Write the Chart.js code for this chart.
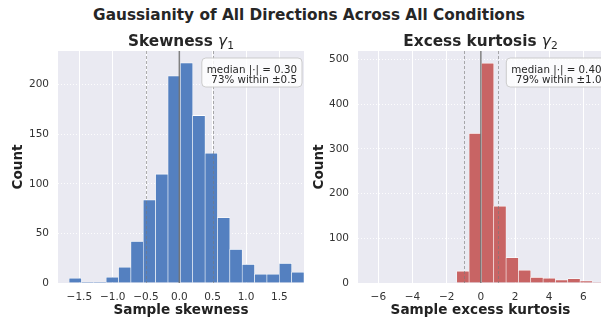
<!DOCTYPE html>
<html>
<head>
<meta charset="utf-8">
<script src="https://cdn.jsdelivr.net/npm/chart.js@4.4.0/dist/chart.umd.min.js"></script>
<style>
  html, body { margin: 0; padding: 0; width: 601px; height: 322px; overflow: hidden; background: #fff; }
  #suptitle {
    position: absolute; left: 0; top: 6px; width: 618px; text-align: center;
    font: bold 15.3px 'DejaVu Sans'; line-height: 18px; color: #262626;
  }
  .panel { position: absolute; top: 0; height: 322px; }
  #skewPanel { left: 0; width: 310px; }
  #kurtPanel { left: 300px; width: 305px; }
</style>
</head>
<body>
<div id="suptitle">Gaussianity of All Directions Across All Conditions</div>
<div class="panel" id="skewPanel"><canvas id="skewChart"></canvas></div>
<div class="panel" id="kurtPanel"><canvas id="kurtChart"></canvas></div>
<script>
// skewness histogram (counts per bin)
const skewCounts = [5, 1, 1, 6, 16, 42, 84, 110, 209, 222, 169, 131, 66, 34, 19, 9, 9, 20, 11];
const skewBinStart = -1.654;
const skewBinWidth = 0.1855;
const skewTicksX = [-1.5, -1.0, -0.5, 0, 0.5, 1.0, 1.5];
const skewTicksY = [0, 50, 100, 150, 200];
const skewMedian = 0.30;
const skewWithinPct = 73;
const skewThreshold = 0.5;

// excess kurtosis histogram
const kurtCounts = [27, 335, 492, 172, 57, 29, 13, 11, 7, 10, 5, 1];
const kurtBinStart = -1.41;
const kurtBinWidth = 0.722;
const kurtTicksX = [-6, -4, -2, 0, 2, 4, 6];
const kurtTicksY = [0, 100, 200, 300, 400, 500];
const kurtMedian = 0.40;
const kurtWithinPct = 79;
const kurtThreshold = 1.0;

const FONT = "'DejaVu Sans'";
const minus = s => s.replace('-', '\u2212');

function binPoints(counts, start, width) {
    return counts.map((c, i) => ({ x: start + width * (i + 0.5), y: c }));
}

// background, reference lines, title and stats box for one panel
function panelDecor(p) {
    return {
        id: 'panelDecor',
        beforeDraw(chart) {
            const { ctx, chartArea: a } = chart;
            ctx.save();
            ctx.fillStyle = '#EAEAF2';
            ctx.fillRect(a.left, a.top, a.right - a.left, a.bottom - a.top);
            ctx.restore();
        },
        afterDatasetsDraw(chart) {
            const { ctx, chartArea: a, scales: { x } } = chart;
            ctx.save();
            ctx.beginPath();
            ctx.rect(a.left, a.top, a.right - a.left, a.bottom - a.top);
            ctx.clip();

            ctx.strokeStyle = 'rgba(120,120,120,0.6)';
            ctx.lineWidth = 1;
            ctx.setLineDash([3, 2]);
            [-p.threshold, p.threshold].forEach(v => {
                const px = Math.round(x.getPixelForValue(v)) + 0.5;
                ctx.beginPath();
                ctx.moveTo(px, a.top);
                ctx.lineTo(px, a.bottom);
                ctx.stroke();
            });

            ctx.setLineDash([]);
            ctx.strokeStyle = 'rgba(115,115,115,0.9)';
            ctx.lineWidth = 1.5;
            const zx = x.getPixelForValue(0);
            ctx.beginPath();
            ctx.moveTo(zx, a.top);
            ctx.lineTo(zx, a.bottom);
            ctx.stroke();
            ctx.restore();

            // stats box
            const lines = [
                'median |\u00B7| = ' + p.median.toFixed(2),
                p.pct + '% within \u00B1' + p.threshold.toFixed(1)
            ];
            ctx.save();
            ctx.font = '10.3px ' + FONT;
            const w = Math.max(...lines.map(l => ctx.measureText(l).width));
            const right = a.right - p.noteInset;
            const bx = right - w - 5, by = a.top + 7, bw = w + 10, bh = 29;
            ctx.beginPath();
            ctx.roundRect(bx, by, bw, bh, 4);
            ctx.fillStyle = 'rgba(255,255,255,0.82)';
            ctx.fill();
            ctx.strokeStyle = 'rgba(200,200,200,0.9)';
            ctx.lineWidth = 1;
            ctx.stroke();
            ctx.fillStyle = '#262626';
            ctx.textAlign = 'right';
            ctx.textBaseline = 'alphabetic';
            ctx.fillText(lines[0], right, a.top + 21.5);
            ctx.fillText(lines[1], right, a.top + 32);
            ctx.restore();
        },
        afterDraw(chart) {
            const { ctx, chartArea: a } = chart;
            ctx.save();
            ctx.fillStyle = '#262626';
            ctx.textBaseline = 'alphabetic';
            const boldF = 'bold 15.3px ' + FONT;
            const italF = 'oblique 15.3px ' + FONT;
            const subF = '10.7px ' + FONT;
            ctx.font = boldF; const w1 = ctx.measureText(p.title).width;
            ctx.font = italF; const w2 = ctx.measureText('\u03B3').width;
            ctx.font = subF; const w3 = ctx.measureText(p.sub).width;
            let tx = (a.left + a.right) / 2 - (w1 + w2 + w3) / 2;
            const ty = 46;
            ctx.textAlign = 'left';
            ctx.font = boldF; ctx.fillText(p.title, tx, ty); tx += w1;
            ctx.font = italF; ctx.fillText('\u03B3', tx, ty); tx += w2;
            ctx.font = subF; ctx.fillText(p.sub, tx, ty + 3);
            ctx.restore();
        }
    };
}

function makePanel(canvasId, p) {
    return new Chart(document.getElementById(canvasId), {
        type: 'bar',
        data: {
            datasets: [{
                data: binPoints(p.counts, p.binStart, p.binWidth),
                backgroundColor: p.color,
                borderColor: '#ffffff',
                borderWidth: { left: 0.6, right: 0.6, top: 0.8, bottom: 0 },
                borderSkipped: false,
                barPercentage: 1.0,
                categoryPercentage: 1.0
            }]
        },
        options: {
            responsive: true,
            maintainAspectRatio: false,
            animation: false,
            layout: { padding: { left: 0, right: p.rightPad, top: 51, bottom: 3 } },
            plugins: { legend: { display: false }, tooltip: { enabled: false } },
            scales: {
                x: {
                    type: 'linear',
                    offset: false,
                    min: p.xMin,
                    max: p.xMax,
                    afterBuildTicks: s => { s.ticks = p.ticksX.map(v => ({ value: v })); },
                    afterFit: s => { s.height = 36; },
                    grid: { color: '#ffffff', lineWidth: 1, drawTicks: false, offset: false },
                    border: { display: false },
                    ticks: {
                        padding: 8,
                        color: '#333333',
                        font: { family: FONT, size: 10.5 },
                        callback: v => minus(p.fmtX(v))
                    },
                    title: {
                        display: true,
                        text: p.xLabel,
                        color: '#222222',
                        font: { family: FONT, size: 13.6, weight: 'bold' },
                        padding: { top: 0, bottom: 0 }
                    }
                },
                y: {
                    min: 0,
                    max: p.yMax,
                    afterBuildTicks: s => { s.ticks = p.ticksY.map(v => ({ value: v })); },
                    afterFit: s => { s.width = 58; },
                    grid: { color: 'rgba(255,255,255,0.9)', lineWidth: 1, drawTicks: false },
                    border: { display: false, dash: [1, 2] },
                    ticks: {
                        padding: 9,
                        color: '#333333',
                        font: { family: FONT, size: 10.5 }
                    },
                    title: {
                        display: true,
                        text: 'Count',
                        color: '#222222',
                        font: { family: FONT, size: 13.6, weight: 'bold' },
                        padding: { top: p.yTitlePad, bottom: 0 }
                    }
                }
            }
        },
        plugins: [panelDecor(p)]
    });
}

makePanel('skewChart', {
    counts: skewCounts, binStart: skewBinStart, binWidth: skewBinWidth,
    ticksX: skewTicksX, ticksY: skewTicksY,
    xMin: -1.82, xMax: 1.87, yMax: 234,
    fmtX: v => v.toFixed(1),
    color: '#5480C0',
    xLabel: 'Sample skewness',
    title: 'Skewness ', sub: '1',
    median: skewMedian, pct: skewWithinPct, threshold: skewThreshold,
    rightPad: 6, yTitlePad: 10, noteInset: 7
});

makePanel('kurtChart', {
    counts: kurtCounts, binStart: kurtBinStart, binWidth: kurtBinWidth,
    ticksX: kurtTicksX, ticksY: kurtTicksY,
    xMin: -7.19, xMax: 7.15, yMax: 519,
    fmtX: v => String(v),
    color: '#C86464',
    xLabel: 'Sample excess kurtosis',
    title: 'Excess kurtosis ', sub: '2',
    median: kurtMedian, pct: kurtWithinPct, threshold: kurtThreshold,
    rightPad: 2, yTitlePad: 11, noteInset: 1.5
});
</script>
</body>
</html>
